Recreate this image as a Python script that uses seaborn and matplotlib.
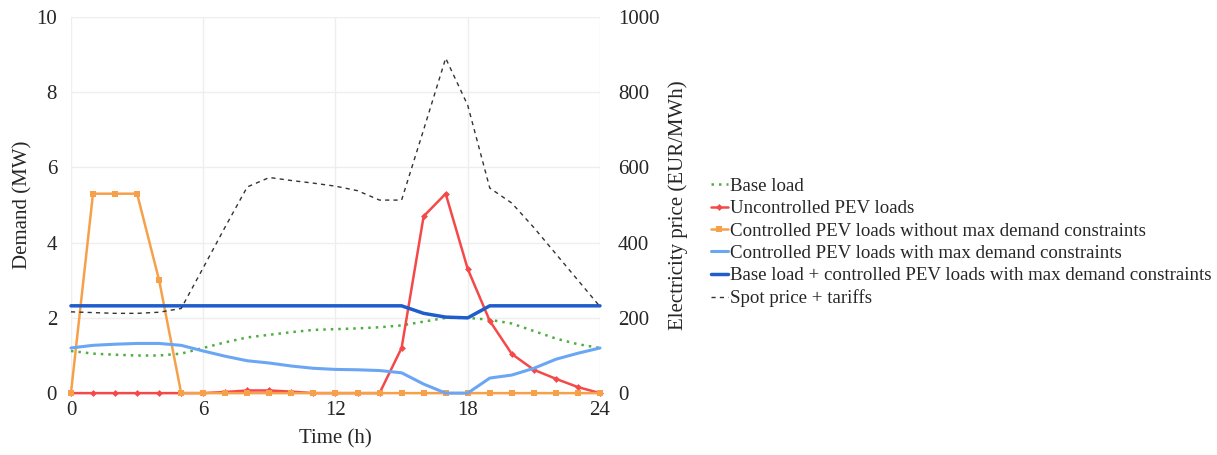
import numpy as np
import pandas as pd
import matplotlib
matplotlib.use("Agg")
import matplotlib.pyplot as plt
import seaborn as sns

# ===== data =====
hours = list(range(25))

base_load = [1.12, 1.05, 1.02, 1.0, 1.0, 1.05, 1.2, 1.35, 1.48, 1.55, 1.62, 1.68, 1.7,
             1.72, 1.75, 1.8, 1.9, 2.0, 2.0, 1.95, 1.85, 1.65, 1.45, 1.3, 1.2]
uncontrolled = [0, 0, 0, 0, 0, 0, 0, 0.03, 0.07, 0.07, 0.04, 0, 0,
                0, 0, 1.2, 4.7, 5.3, 3.3, 1.92, 1.04, 0.62, 0.38, 0.16, 0]
controlled_nomax = [0, 5.3, 5.3, 5.3, 3.0, 0, 0, 0, 0, 0, 0, 0, 0,
                    0, 0, 0, 0, 0, 0, 0, 0, 0, 0, 0, 0]
controlled_max = [1.2, 1.27, 1.3, 1.32, 1.32, 1.27, 1.12, 0.98, 0.86, 0.8, 0.72, 0.66, 0.63,
                  0.62, 0.6, 0.54, 0.24, 0, 0, 0.4, 0.48, 0.66, 0.9, 1.06, 1.2]
base_plus_controlled = [2.32] * 16 + [2.12, 2.02, 2.0] + [2.32] * 6
spot_price = [216, 214, 212, 212, 215, 225, 333, 442, 548, 573, 565, 558, 550,
              538, 513, 513, 700, 890, 765, 545, 505, 440, 370, 300, 230]

labels = [
    "Base load",
    "Uncontrolled PEV loads",
    "Controlled PEV loads without max demand constraints",
    "Controlled PEV loads with max demand constraints",
    "Base load + controlled PEV loads with max demand constraints",
    "Spot price + tariffs",
]

df = pd.DataFrame({"hour": hours, "base": base_load, "unc": uncontrolled,
                   "nomax": controlled_nomax, "max": controlled_max,
                   "sum": base_plus_controlled, "price": spot_price})

# ===== style =====
sns.set_style("white")
plt.rcParams["font.family"] = ["Liberation Serif", "DejaVu Serif"]

fig = plt.figure(figsize=(12.17, 4.55), dpi=100)
ax = fig.add_axes([0.0583, 0.136, 0.4347, 0.827])
ax2 = ax.twinx()

sns.lineplot(data=df, x="hour", y="base", ax=ax, color="#4daf3f", lw=1.8,
             linestyle=(0, (1, 2)), label=labels[0])
sns.lineplot(data=df, x="hour", y="unc", ax=ax, color="#f54848", lw=1.8,
             marker="D", markersize=3.5, markeredgewidth=0, label=labels[1])
sns.lineplot(data=df, x="hour", y="nomax", ax=ax, color="#f7a04a", lw=1.8,
             marker="s", markersize=4, markeredgewidth=0, label=labels[2])
sns.lineplot(data=df, x="hour", y="max", ax=ax, color="#6ba6f5", lw=2.2, label=labels[3])
sns.lineplot(data=df, x="hour", y="sum", ax=ax, color="#1f5ccc", lw=2.5, label=labels[4])
sns.lineplot(data=df, x="hour", y="price", ax=ax2, color="#333333", lw=1.0,
             linestyle=(0, (3, 3)), label=labels[5])
for a in (ax, ax2):
    for ln in a.lines:
        ln.set_clip_on(False)

ax.set_xlim(0, 24)
ax.set_ylim(0, 10)
ax2.set_ylim(0, 1000)
ax.set_xticks([0, 6, 12, 18, 24])
ax.set_yticks([0, 2, 4, 6, 8, 10])
ax2.set_yticks([0, 200, 400, 600, 800, 1000])

ax.grid(True, color="#eeeeee", lw=1)
ax2.grid(False)
for a in (ax, ax2):
    for s in a.spines.values():
        s.set_visible(False)
    a.tick_params(length=0, labelsize=15)
ax.tick_params(axis="x", pad=6)
ax.tick_params(axis="y", pad=10)
ax2.tick_params(axis="y", pad=13)

ax.set_xlabel("Time (h)", fontsize=15, labelpad=6)
ax.set_ylabel("Demand (MW)", fontsize=15, labelpad=3)
ax2.set_ylabel("Electricity price (EUR/MWh)", fontsize=15, labelpad=6)

# combined legend outside on the right
h1, l1 = ax.get_legend_handles_labels()
h2, l2 = ax2.get_legend_handles_labels()
ax2.get_legend().remove()
ax.get_legend().remove()
fig.legend(h1 + h2, l1 + l2, loc="center left", bbox_to_anchor=(0.578, 0.467),
           frameon=False, fontsize=13.6, handlelength=0.9, handletextpad=0.1,
           labelspacing=0.27, borderaxespad=0)

fig.savefig("out.png", dpi=100)
